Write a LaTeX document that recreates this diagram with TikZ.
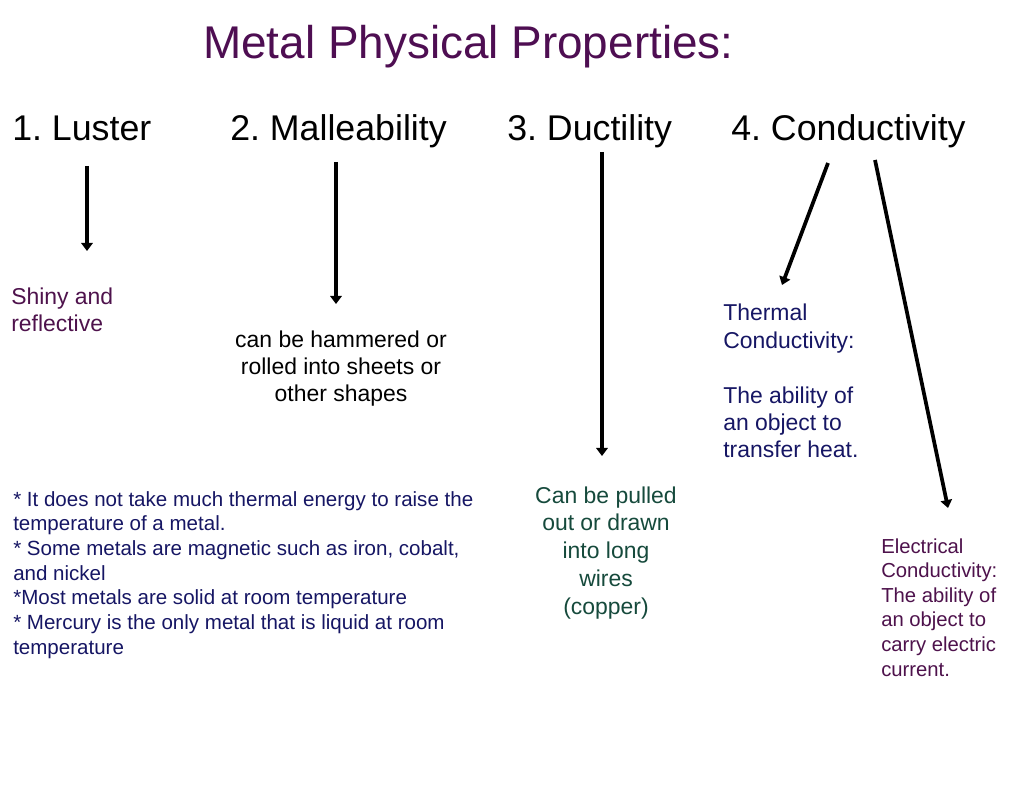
\documentclass[tikz,border=0pt]{standalone}
\usepackage{fontspec}
\setmainfont{Liberation Sans}
\frenchspacing
\usetikzlibrary{arrows.meta}
\definecolor{titlepurple}{RGB}{78,14,82}
\definecolor{txtpurple}{RGB}{78,18,76}
\definecolor{navy}{RGB}{22,22,100}
\definecolor{teal}{RGB}{22,74,60}
\tikzset{
  px/.style={x=0.75pt,y=-0.75pt},
  heading/.style={anchor=base west,inner sep=0pt,font=\fontsize{26.8pt}{32pt}\selectfont},
  body/.style={inner sep=0pt,font=\fontsize{17.2pt}{20.4pt}\selectfont},
  small/.style={inner sep=0pt,font=\fontsize{15.2pt}{18.5pt}\selectfont},
  arr/.style={line width=2.8pt,-{Triangle[length=6pt,width=8.5pt]}}
}
\begin{document}
\begin{tikzpicture}[px]
\useasboundingbox[fill=white] (0,0) rectangle (1024,787);
\node[anchor=base west,inner sep=0pt,text=titlepurple,font=\fontsize{34.4pt}{40pt}\selectfont] (title) at (203,59) {Metal Physical Properties:};
\node[heading] (h1) at (12,141) {1. Luster};
\node[heading] (h2) at (230,141) {2. Malleability};
\node[heading] (h3) at (507,141) {3. Ductility};
\node[heading] (h4) at (731,141) {4. Conductivity};
\node[body,anchor=base west,align=left,text=txtpurple] (shiny) at (11,332) {Shiny and\\reflective};
\node[body,anchor=base,align=center] (hammer) at (341,402) {can be hammered or\\rolled into sheets or\\other shapes};
\node[body,anchor=base west,align=left,text=navy,font=\fontsize{17.2pt}{20.6pt}\selectfont] (thermal) at (723,458) {Thermal\\Conductivity:\\[20.6pt]The ability of\\an object to\\transfer heat.};
\node[body,anchor=base,align=center,text=teal,font=\fontsize{17.2pt}{20.8pt}\selectfont] (duct) at (606,614) {Can be pulled\\out or drawn\\into long\\wires\\(copper)};
\node[small,anchor=base west,align=left,text=navy,font=\fontsize{15.4pt}{18.5pt}\selectfont] (facts) at (13,654) {* It does not take much thermal energy to raise the\\temperature of a metal.\\* Some metals are magnetic such as iron, cobalt,\\and nickel\\*Most metals are solid at room temperature\\* Mercury is the only metal that is liquid at room\\temperature};
\node[small,anchor=base west,align=left,text=txtpurple,font=\fontsize{15.2pt}{18.45pt}\selectfont] (elec) at (881,676) {Electrical\\Conductivity:\\The ability of\\an object to\\carry electric\\current.};
\coordinate (a1s) at (87,166); \coordinate (a1e) at (87,251);
\coordinate (a2s) at (336,162); \coordinate (a2e) at (336,304);
\coordinate (a3s) at (602,152); \coordinate (a3e) at (602,456);
\coordinate (a4s) at (828,163); \coordinate (a4e) at (782,285);
\coordinate (a5s) at (875,160); \coordinate (a5e) at (948,508);
\draw[arr] (a1s) -- (a1e);
\draw[arr] (a2s) -- (a2e);
\draw[arr] (a3s) -- (a3e);
\draw[arr] (a4s) -- (a4e);
\draw[arr] (a5s) -- (a5e);
\end{tikzpicture}
\end{document}
